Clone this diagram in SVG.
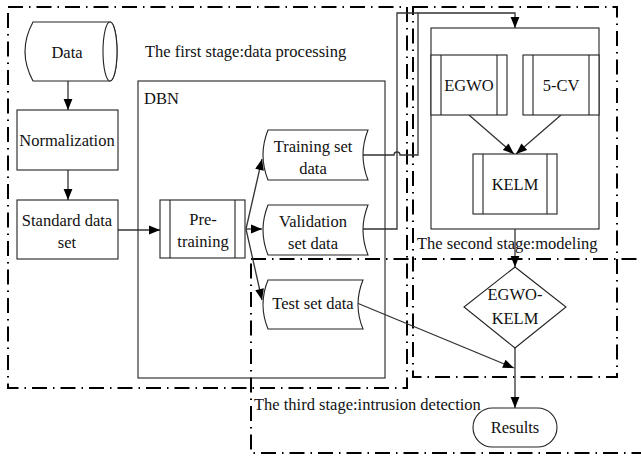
<svg xmlns="http://www.w3.org/2000/svg" width="641" height="458" viewBox="0 0 641 458">
  <style>
    .stage { fill: none; stroke: #000; stroke-width: 2; stroke-dasharray: 15 6 1.5 6; }
    .shape { fill: #fff; stroke: #222; stroke-width: 1.1; }
    .frame { fill: none; stroke: #222; stroke-width: 1.1; }
    .conn { fill: none; stroke: #333; stroke-width: 1.3; }
    .lbl { font-family: "Liberation Serif", "DejaVu Serif", serif; font-size: 16.5px; fill: #111; }
    .mid { text-anchor: middle; }
  </style>
  <defs>
    <marker id="arrow" viewBox="0 0 10 10" refX="10" refY="5" markerWidth="12" markerHeight="11" markerUnits="userSpaceOnUse" orient="auto">
      <path d="M0,1 L10,5 L0,9 z" fill="#000"/>
    </marker>
  </defs>

  <rect width="641" height="458" fill="#fff"/>

  <!-- stage frames -->
  <g id="stages">
    <rect class="stage" x="8" y="7" width="399" height="381"/>
    <rect class="stage" x="413" y="7" width="204" height="370"/>
    <rect class="stage" x="251" y="259" width="400" height="194"/>
  </g>

  <!-- containers -->
  <g id="dbn">
    <rect class="frame" x="138" y="81" width="247" height="297"/>
    <text class="lbl" x="144" y="104">DBN</text>
  </g>
  <g id="modeling">
    <rect class="frame" x="431" y="28" width="168" height="201"/>
  </g>

  <!-- stage labels -->
  <text class="lbl" x="145" y="57">The first stage:data processing</text>
  <text class="lbl" x="417" y="249">The second stage:modeling</text>
  <text class="lbl" x="254" y="410">The third stage:intrusion detection</text>

  <!-- connectors -->
  <g id="connectors">
    <line class="conn" x1="68" y1="81" x2="68" y2="110" marker-end="url(#arrow)"/>
    <line class="conn" x1="68" y1="170" x2="68" y2="200" marker-end="url(#arrow)"/>
    <line class="conn" x1="118" y1="230" x2="160" y2="230" marker-end="url(#arrow)"/>
    <line class="conn" x1="246" y1="229" x2="262" y2="159" marker-end="url(#arrow)"/>
    <line class="conn" x1="246" y1="229" x2="262" y2="229" marker-end="url(#arrow)"/>
    <line class="conn" x1="246" y1="229" x2="262" y2="300" marker-end="url(#arrow)"/>
    <path class="conn" d="M363,155 H394 A3,3 0 0 1 400,155 H418 V13 H515 V28" marker-end="url(#arrow)"/>
    <path class="conn" d="M363,229 H397 V13 H418"/>
    <line class="conn" x1="469" y1="115" x2="514" y2="154" marker-end="url(#arrow)"/>
    <line class="conn" x1="561" y1="115" x2="516" y2="154" marker-end="url(#arrow)"/>
    <line class="conn" x1="515" y1="229" x2="515" y2="267" marker-end="url(#arrow)"/>
    <line class="conn" x1="515" y1="348" x2="515" y2="408" marker-end="url(#arrow)"/>
    <line class="conn" x1="357" y1="303" x2="514" y2="368" marker-end="url(#arrow)"/>
  </g>

  <!-- nodes -->
  <g id="data">
    <path class="shape" d="M33,22 H110 A7,29.5 0 0 1 110,81 H33 Q17,51.5 33,22 z"/>
    <ellipse class="shape" cx="110" cy="51.5" rx="7" ry="29.5"/>
    <text class="lbl mid" x="67" y="58">Data</text>
  </g>
  <g id="normalization">
    <rect class="shape" x="17" y="110" width="101" height="60"/>
    <text class="lbl mid" x="67" y="146">Normalization</text>
  </g>
  <g id="standard">
    <rect class="shape" x="17" y="200" width="101" height="59"/>
    <text class="lbl mid" x="67" y="226">Standard data</text>
    <text class="lbl mid" x="67" y="248">set</text>
  </g>
  <g id="pretraining">
    <rect class="shape" x="160" y="200" width="85" height="58"/>
    <line class="frame" x1="170" y1="200" x2="170" y2="258"/>
    <line class="frame" x1="235" y1="200" x2="235" y2="258"/>
    <text class="lbl mid" x="203" y="225">Pre-</text>
    <text class="lbl mid" x="203" y="247">training</text>
  </g>
  <g id="training-set">
    <path class="shape" d="M268,130 H368 Q358,155 368,180 H268 Q258,155 268,130 z"/>
    <text class="lbl mid" x="313" y="152">Training set</text>
    <text class="lbl mid" x="313" y="174">data</text>
  </g>
  <g id="validation-set">
    <path class="shape" d="M268,205 H368 Q358,230 368,255 H268 Q258,230 268,205 z"/>
    <text class="lbl mid" x="313" y="227">Validation</text>
    <text class="lbl mid" x="313" y="249">set data</text>
  </g>
  <g id="test-set">
    <path class="shape" d="M268,280 H363 Q353,304.5 363,329 H268 Q258,304.5 268,280 z"/>
    <text class="lbl mid" x="313" y="309">Test set data</text>
  </g>
  <g id="egwo">
    <rect class="shape" x="431" y="55" width="76" height="60"/>
    <line class="frame" x1="441" y1="55" x2="441" y2="115"/>
    <line class="frame" x1="497" y1="55" x2="497" y2="115"/>
    <text class="lbl mid" x="469" y="91">EGWO</text>
  </g>
  <g id="cv">
    <rect class="shape" x="523" y="55" width="76" height="60"/>
    <line class="frame" x1="533" y1="55" x2="533" y2="115"/>
    <line class="frame" x1="589" y1="55" x2="589" y2="115"/>
    <text class="lbl mid" x="561" y="91">5-CV</text>
  </g>
  <g id="kelm">
    <rect class="shape" x="473" y="154" width="84" height="60"/>
    <line class="frame" x1="483" y1="154" x2="483" y2="214"/>
    <line class="frame" x1="547" y1="154" x2="547" y2="214"/>
    <text class="lbl mid" x="515" y="190">KELM</text>
  </g>
  <g id="egwo-kelm">
    <path class="shape" d="M515,267 L566,307 L515,348 L464,307 z"/>
    <text class="lbl mid" x="515" y="300">EGWO-</text>
    <text class="lbl mid" x="515" y="324">KELM</text>
  </g>
  <g id="results">
    <rect class="shape" x="473" y="408" width="84" height="39" rx="19.5" ry="19.5"/>
    <text class="lbl mid" x="515" y="433">Results</text>
  </g>
</svg>
